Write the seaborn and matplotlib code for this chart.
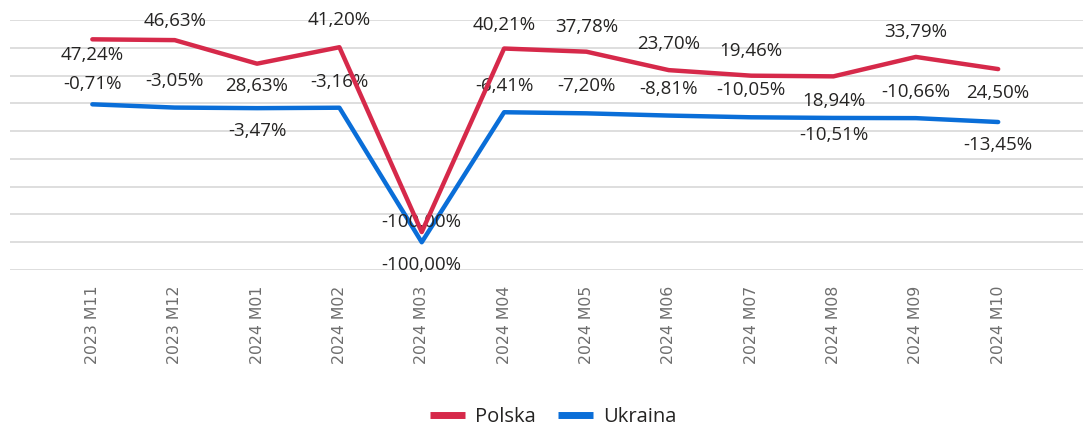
import pandas as pd
import seaborn as sns
from matplotlib import pyplot as plt

# months and year-over-year change (%)
months = ["2023 M11", "2023 M12", "2024 M01", "2024 M02", "2024 M03", "2024 M04",
          "2024 M05", "2024 M06", "2024 M07", "2024 M08", "2024 M09", "2024 M10"]
polska = [47.24, 46.63, 28.63, 41.20, -100.00, 40.21, 37.78, 23.70, 19.46, 18.94, 33.79, 24.50]
ukraina = [-0.71, -3.05, -3.47, -3.16, -100.00, -6.41, -7.20, -8.81, -10.05, -10.51, -10.66, -13.45]

# label offsets in pixels (positive = above the point)
polska_off = [-16, 19, -22, 27, 10, 24, 25, 26, 25, -25, 25, -24]
ukraina_off = [20, 27, -23, 26, -23, 26, 27, 27, 27, -17, 26, -23]

red = "#D6294A"
blue = "#0A6ED8"

df_pl = pd.DataFrame({"x": range(len(months)), "val": polska})
df_ua = pd.DataFrame({"x": range(len(months)), "val": ukraina})

sns.set_theme(style="white")
plt.rcParams['font.family'] = ['Open Sans', 'DejaVu Sans']

fig = plt.figure(figsize=(10.83, 4.26), dpi=100)
ax = fig.add_axes([10 / 1083, 156 / 426, 1073 / 1083, 250 / 426])
ax2 = ax.twinx()

# Ukraina on primary axis (with gridlines), Polska on secondary
sns.lineplot(x="x", y="val", data=df_ua, ax=ax, color=blue, linewidth=3.2, label="Ukraina", legend=False, zorder=3)
sns.lineplot(x="x", y="val", data=df_pl, ax=ax2, color=red, linewidth=3.2, label="Polska", legend=False, zorder=3)

ax.set_ylim(-120, 60)
ax2.set_ylim(-129, 62)
ax.set_xlim(-1.0, 12.03)
ax.set_yticks(range(-120, 61, 20))
ax.yaxis.grid(True, color="#DEDEDE", linewidth=1.4)
ax.xaxis.grid(False)
ax.set_yticklabels([])
ax.tick_params(axis="y", length=0)
ax2.set_yticks([])
ax.set_axisbelow(True)

ax.set_xticks(range(len(months)))
ax.set_xticklabels(months, rotation=90, fontsize=11.3, color="#6E6E6E", family="DejaVu Sans")
ax.tick_params(axis="x", length=0, pad=11)
ax.set_xlabel("")
ax.set_ylabel("")
ax2.set_ylabel("")
for a in (ax, ax2):
    for s in a.spines.values():
        s.set_visible(False)

def fmt(v):
    return f"{v:.2f}".replace(".", ",") + "%"

for i, v in enumerate(polska):
    ax2.annotate(fmt(v), (i, v), xytext=(0, polska_off[i]), textcoords="offset pixels",
                 ha="center", va="center", fontsize=13.5, color="#252423", zorder=2)
for i, v in enumerate(ukraina):
    ax.annotate(fmt(v), (i, v), xytext=(0, ukraina_off[i]), textcoords="offset pixels",
                ha="center", va="center", fontsize=13.5, color="#252423", zorder=2)

h1, l1 = ax2.get_legend_handles_labels()
h2, l2 = ax.get_legend_handles_labels()
leg = fig.legend(h1 + h2, l1 + l2, loc="lower center", bbox_to_anchor=(0.511, -0.045), ncol=2,
                 frameon=False, fontsize=14.5, handlelength=1.75, columnspacing=1.1, handletextpad=0.5)
for line in leg.get_lines():
    line.set_linewidth(5)
    line.set_solid_capstyle("butt")
for t in leg.get_texts():
    t.set_color("#252423")

fig.savefig("out.png", dpi=100)
